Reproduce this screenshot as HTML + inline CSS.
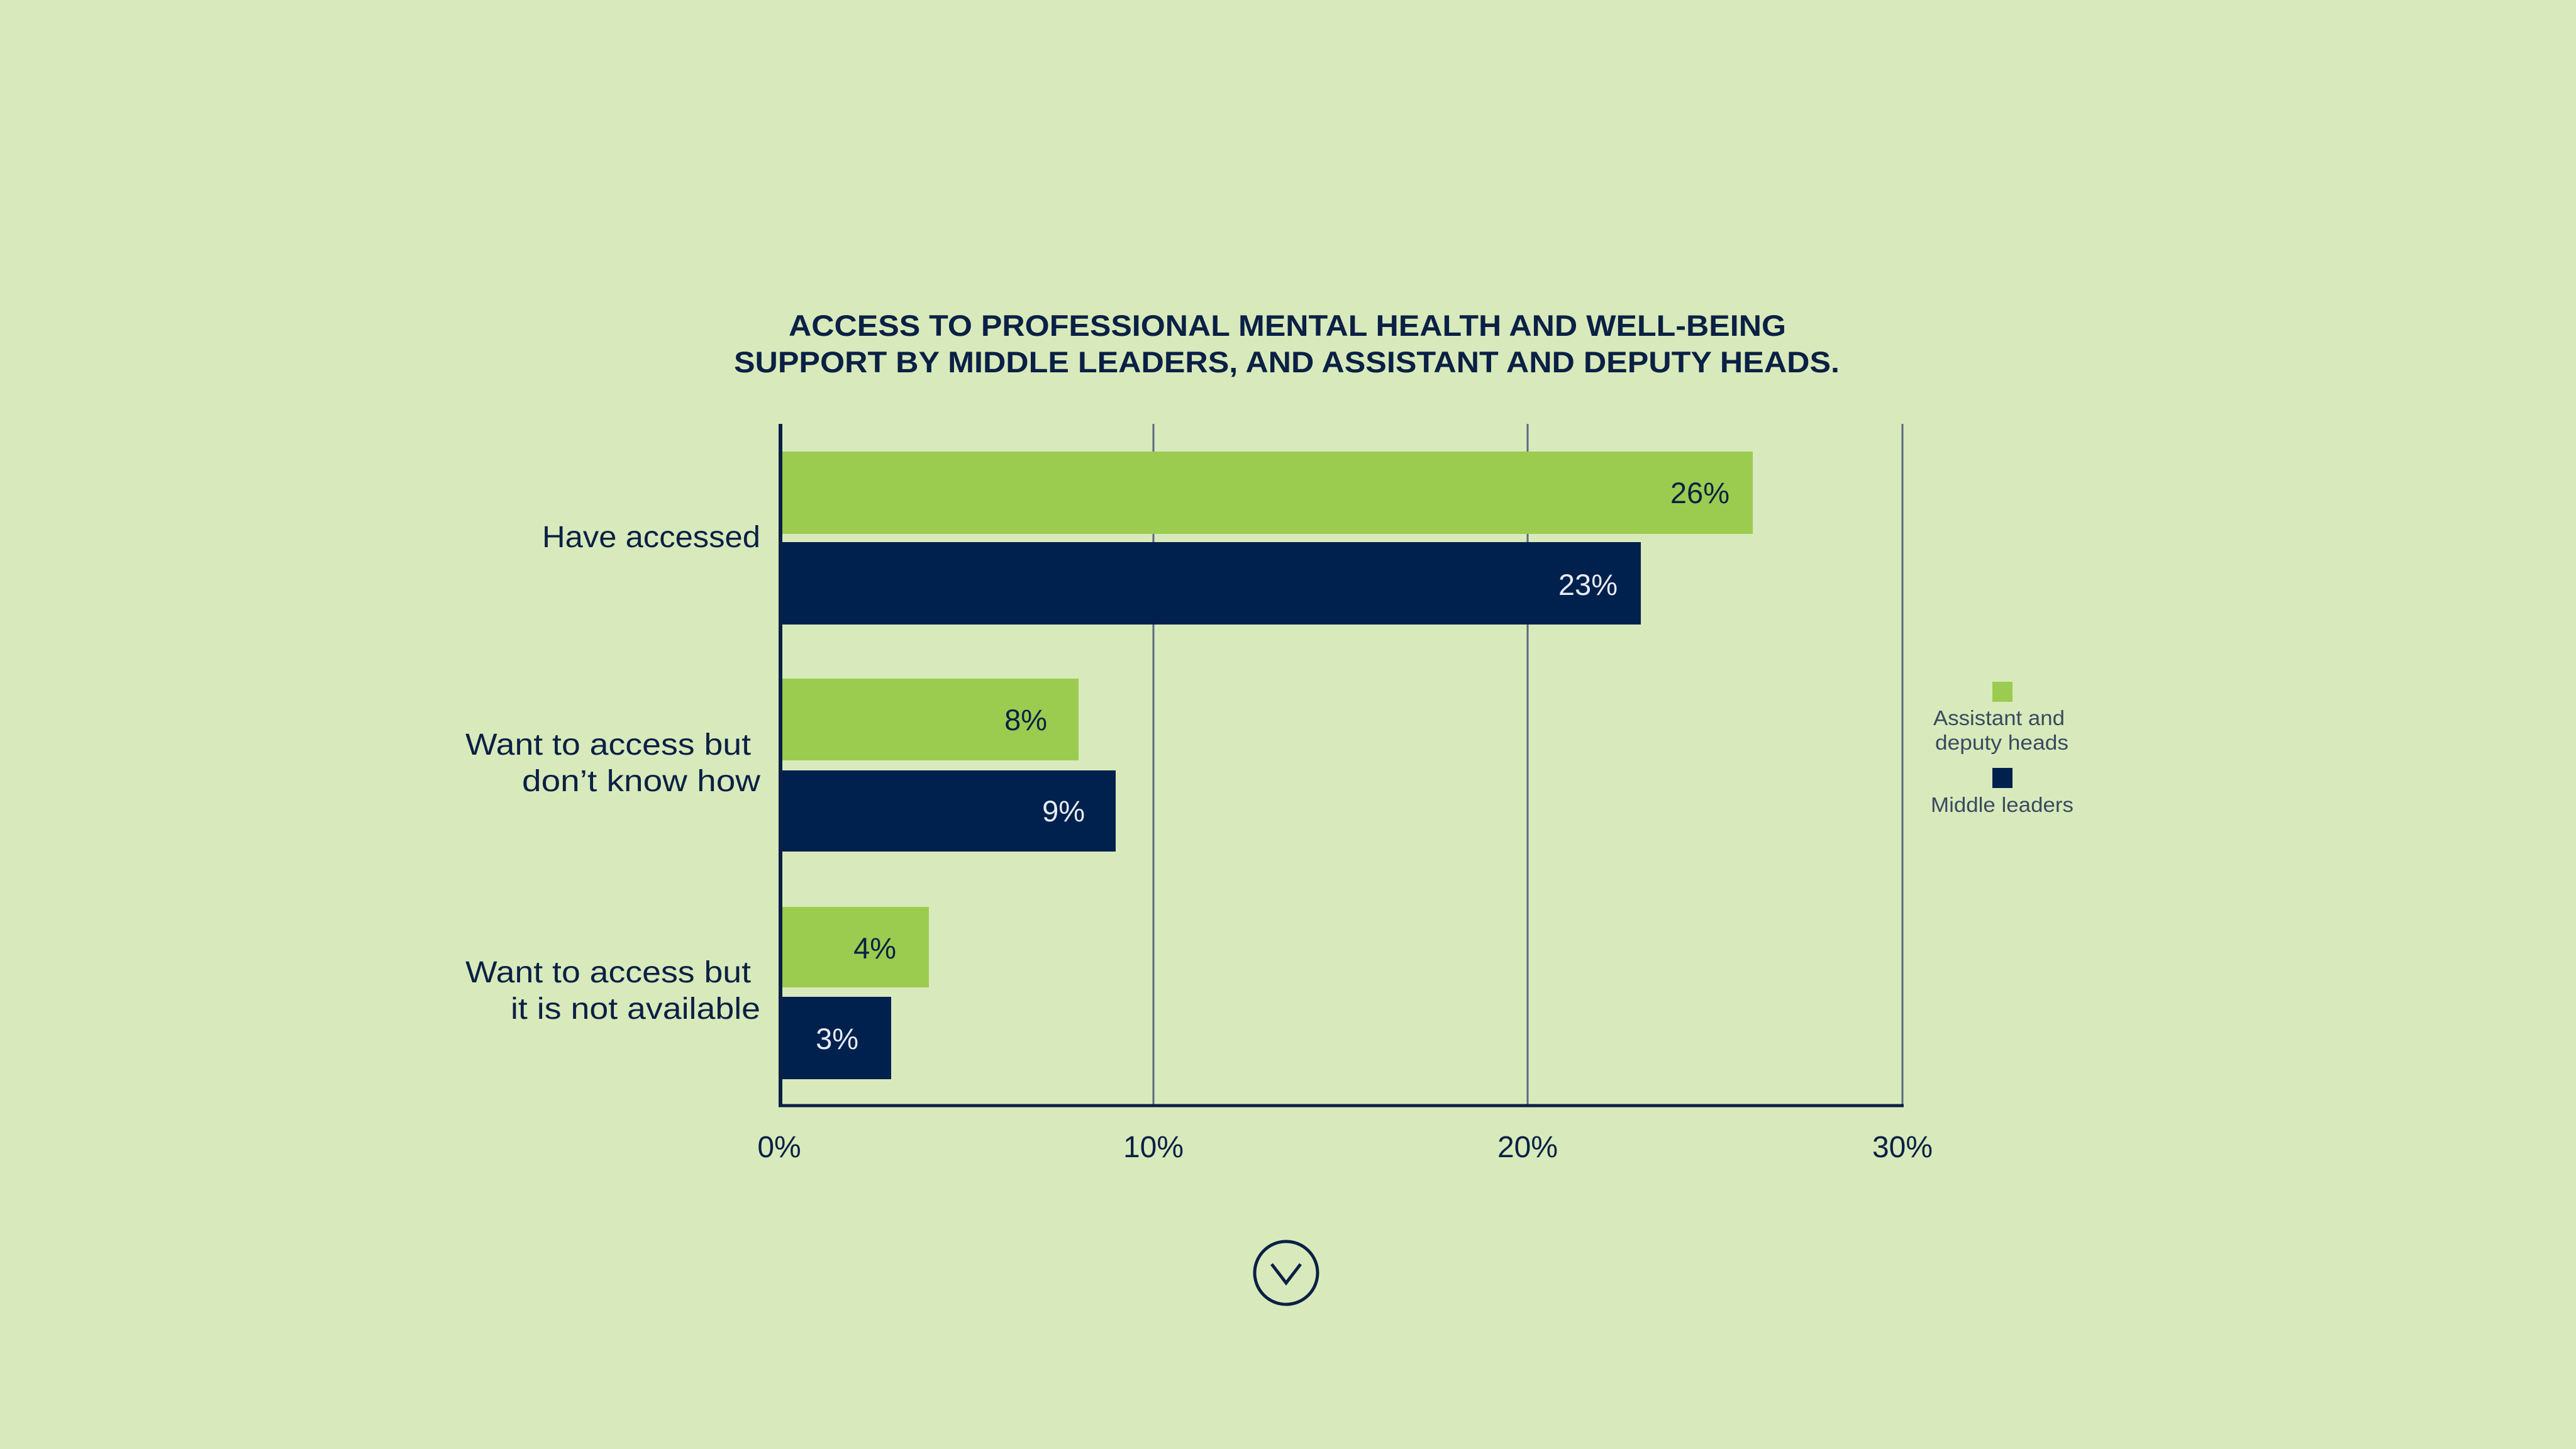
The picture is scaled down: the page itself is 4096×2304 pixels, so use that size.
<!DOCTYPE html>
<html><head><meta charset="utf-8"><style>
html,body{margin:0;padding:0;background:#d8eabb;}
body{width:4096px;height:2304px;position:relative;overflow:hidden;font-family:"Liberation Sans",sans-serif;color:#0b2045;}
</style></head><body>
<svg width="4096" height="2304" style="position:absolute;left:0;top:0">
<g stroke="#5a6a80" stroke-width="3">
<line x1="1834" y1="674" x2="1834" y2="1758"/>
<line x1="2429" y1="674" x2="2429" y2="1758"/>
<line x1="3025" y1="674" x2="3025" y2="1758"/>
</g>
<rect x="1241" y="718" width="1546" height="131" fill="#9bcc50"/>
<rect x="1241" y="862" width="1368" height="131" fill="#00204d"/>
<rect x="1241" y="1079" width="474" height="130" fill="#9bcc50"/>
<rect x="1241" y="1225" width="533" height="129" fill="#00204d"/>
<rect x="1241" y="1442" width="236" height="128" fill="#9bcc50"/>
<rect x="1241" y="1585" width="176" height="131" fill="#00204d"/>
<line x1="1241" y1="674" x2="1241" y2="1760" stroke="#0b2045" stroke-width="6"/>
<line x1="1238" y1="1758" x2="3027" y2="1758" stroke="#0b2045" stroke-width="5"/>
<g font-family="Liberation Sans, sans-serif" font-size="47" text-anchor="end">
<text x="2750" y="800" fill="#0b2045">26%</text>
<text x="2572" y="946" fill="#e6ecf4">23%</text>
<text x="1665" y="1161" fill="#0b2045">8%</text>
<text x="1725" y="1306" fill="#e6ecf4">9%</text>
<text x="1425" y="1524" fill="#0b2045">4%</text>
<text x="1365" y="1668" fill="#e6ecf4">3%</text>
</g>
<g font-family="Liberation Sans, sans-serif" font-size="48" fill="#0b2045" text-anchor="middle">
<text x="1239" y="1840">0%</text>
<text x="1834" y="1840">10%</text>
<text x="2429" y="1840">20%</text>
<text x="3025" y="1840">30%</text>
</g>
<g font-family="Liberation Sans, sans-serif" font-size="48" fill="#0b2045" lengthAdjust="spacingAndGlyphs">
<text x="862" y="870" textLength="347" lengthAdjust="spacingAndGlyphs">Have accessed</text>
<text x="740" y="1200" textLength="454" lengthAdjust="spacingAndGlyphs">Want to access but</text>
<text x="830" y="1258" textLength="379" lengthAdjust="spacingAndGlyphs">don’t know how</text>
<text x="740" y="1562" textLength="454" lengthAdjust="spacingAndGlyphs">Want to access but</text>
<text x="812" y="1620" textLength="397" lengthAdjust="spacingAndGlyphs">it is not available</text>
</g>
<g font-family="Liberation Sans, sans-serif" font-size="47" font-weight="bold" fill="#0b2045">
<text x="1254" y="534" textLength="1586" lengthAdjust="spacingAndGlyphs">ACCESS TO PROFESSIONAL MENTAL HEALTH AND WELL-BEING</text>
<text x="1167" y="592" textLength="1758" lengthAdjust="spacingAndGlyphs">SUPPORT BY MIDDLE LEADERS, AND ASSISTANT AND DEPUTY HEADS.</text>
</g>
<rect x="3168" y="1084" width="32" height="32" fill="#9bcc50"/>
<rect x="3168" y="1221" width="32" height="32" fill="#00204d"/>
<g font-family="Liberation Sans, sans-serif" font-size="33" fill="#3a4a60">
<text x="3074" y="1153" textLength="209" lengthAdjust="spacingAndGlyphs">Assistant and</text>
<text x="3077" y="1192" textLength="212" lengthAdjust="spacingAndGlyphs">deputy heads</text>
<text x="3070" y="1291" textLength="227" lengthAdjust="spacingAndGlyphs">Middle leaders</text>
</g>
<circle cx="2045" cy="2024" r="50" fill="none" stroke="#0b2045" stroke-width="5"/>
<polyline points="2022,2010 2045,2040 2068,2010" fill="none" stroke="#0b2045" stroke-width="5"/>
</svg>
</body></html>
